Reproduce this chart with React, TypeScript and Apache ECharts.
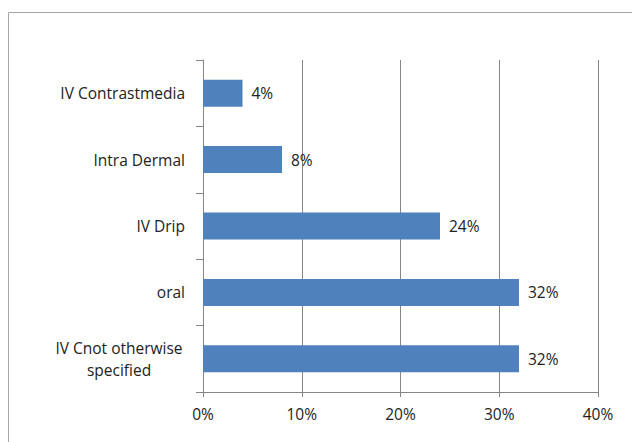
import React, { useEffect, useRef } from "react";
import * as echarts from "echarts";

const categories = [
  "IV Cnot otherwise specified",
  "oral",
  "IV Drip",
  "Intra Dermal",
  "IV Contrastmedia",
];
const values = [32, 32, 24, 8, 4];
const xTicks = [0, 10, 20, 30, 40];

const FONT = "Open Sans";
const FS = 15.5;

export default function App() {
  const ref = useRef<HTMLDivElement>(null);
  useEffect(() => {
    if (!ref.current) return;
    const chart = echarts.init(ref.current, undefined, { renderer: "svg" });
    chart.setOption({
      animation: false,
      backgroundColor: "#ffffff",
      graphic: [
        {
          type: "rect",
          shape: { x: 8.5, y: 12.5, width: 700, height: 500 },
          style: { fill: "none", stroke: "#a6a6a6", lineWidth: 1 },
          silent: true,
        },
      ],
      grid: { left: 203, right: 34, top: 60, bottom: 50 },
      xAxis: {
        type: "value",
        min: xTicks[0],
        max: xTicks[xTicks.length - 1],
        interval: 10,
        axisLine: { show: true, lineStyle: { color: "#868686", width: 1 } },
        axisTick: { show: true, length: 5, lineStyle: { color: "#868686" } },
        splitLine: { show: true, lineStyle: { color: "#868686", width: 1 } },
        axisLabel: {
          formatter: "{value}%",
          color: "#222",
          fontFamily: FONT,
          fontSize: FS,
          margin: 14,
        },
      },
      yAxis: {
        type: "category",
        data: categories,
        axisLine: { show: true, lineStyle: { color: "#868686", width: 1 } },
        axisTick: { show: true, length: 7, lineStyle: { color: "#868686" } },
        axisLabel: {
          color: "#222",
          fontFamily: FONT,
          fontSize: FS,
          margin: 18,
          formatter: (v: string) =>
            v === "IV Cnot otherwise specified"
              ? "{c|IV Cnot otherwise}\n{c|specified}"
              : v,
          rich: {
            c: {
              width: 132,
              align: "center",
              color: "#222",
              fontFamily: FONT,
              fontSize: FS,
              lineHeight: 22,
            },
          },
        },
      },
      series: [
        {
          type: "bar",
          data: values,
          barWidth: 27,
          itemStyle: { color: "#4F81BD" },
          label: {
            show: true,
            position: "right",
            distance: 9,
            formatter: "{c}%",
            color: "#222",
            fontFamily: FONT,
            fontSize: FS,
          },
        },
      ],
    });
    return () => chart.dispose();
  }, []);
  return (
    <div
      ref={ref}
      style={{ position: "absolute", left: 0, top: 0, width: 632, height: 442 }}
    />
  );
}
